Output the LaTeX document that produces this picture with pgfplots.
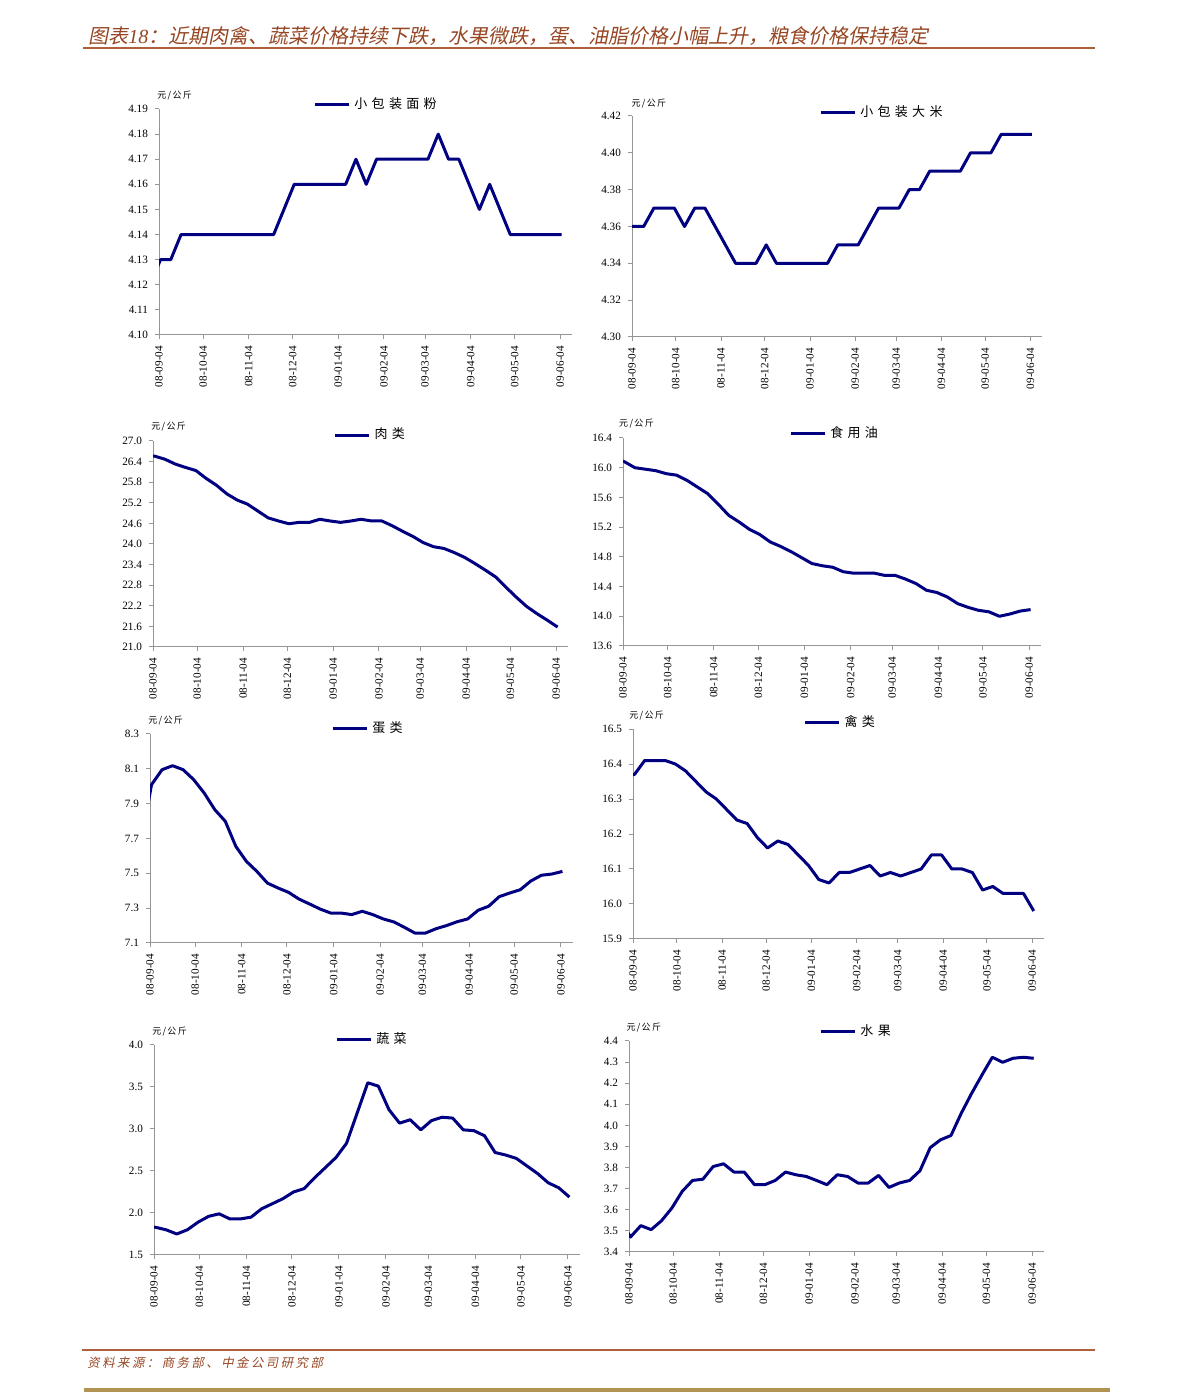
\documentclass[border=0pt]{standalone}
\usepackage{pgfplots}
\pgfplotsset{compat=1.18}
\usepackage{pgfplotstable}
\usepackage{fontspec}
\setmainfont{Liberation Serif}
\newfontfamily\cjk{Noto Sans CJK SC}
\newfontfamily\cjkleg[LetterSpace=33]{Noto Sans CJK SC}
\newfontfamily\cjkunit[LetterSpace=15]{Noto Sans CJK SC}
\newfontfamily\cjktitle[FakeSlant=0.2]{Noto Sans CJK SC}
\newfontfamily\cjkfoot[FakeSlant=0.2,LetterSpace=20]{Noto Sans CJK SC}
\definecolor{navyline}{RGB}{0,0,128}
\definecolor{titlebrown}{RGB}{150,70,35}
\definecolor{rulebrown}{RGB}{175,95,60}
\definecolor{goldbar}{RGB}{178,148,82}
\definecolor{axisgray}{RGB}{150,150,150}

\pgfplotstableread{
d wheat rice meat oil egg poultry veg fruit
-6 4.12 4.36 26.58 16.12 7.666 16.37 1.84 3.55
1 4.13 4.36 26.56 16.08 8.009 16.37 1.83 3.471
8 4.13 4.36 26.47 16.00 8.095 16.41 1.80 3.525
15 4.14 4.37 26.33 15.98 8.118 16.41 1.75 3.506
22 4.14 4.37 26.23 15.96 8.095 16.41 1.80 3.548
29 4.14 4.37 26.14 15.92 8.038 16.40 1.89 3.608
36 4.14 4.36 25.91 15.90 7.961 16.38 1.96 3.687
43 4.14 4.37 25.71 15.83 7.866 16.35 1.99 3.739
50 4.14 4.37 25.46 15.74 7.799 16.32 1.93 3.745
57 4.14 4.36 25.28 15.65 7.655 16.30 1.93 3.805
64 4.14 4.35 25.16 15.51 7.569 16.27 1.95 3.818
71 4.14 4.34 24.96 15.36 7.511 16.24 2.05 3.779
78 4.14 4.34 24.76 15.27 7.444 16.23 2.11 3.779
85 4.15 4.34 24.67 15.17 7.416 16.19 2.17 3.719
92 4.16 4.35 24.59 15.10 7.391 16.16 2.25 3.719
99 4.16 4.34 24.63 15.00 7.352 16.18 2.29 3.739
106 4.16 4.34 24.63 14.94 7.324 16.17 2.42 3.779
113 4.16 4.34 24.72 14.87 7.295 16.14 2.54 3.766
120 4.16 4.34 24.67 14.79 7.272 16.11 2.66 3.758
127 4.16 4.34 24.63 14.71 7.272 16.07 2.83 3.739
134 4.17 4.34 24.67 14.68 7.263 16.06 3.19 3.719
141 4.16 4.35 24.72 14.66 7.282 16.09 3.55 3.766
148 4.17 4.35 24.67 14.60 7.263 16.09 3.51 3.758
155 4.17 4.35 24.67 14.58 7.238 16.10 3.23 3.727
162 4.17 4.36 24.53 14.58 7.221 16.11 3.07 3.727
169 4.17 4.37 24.37 14.58 7.190 16.08 3.11 3.763
176 4.17 4.37 24.22 14.55 7.157 16.09 2.99 3.706
183 4.17 4.37 24.04 14.55 7.157 16.08 3.10 3.727
190 4.18 4.38 23.92 14.50 7.182 16.09 3.14 3.739
197 4.17 4.38 23.87 14.44 7.200 16.10 3.13 3.785
204 4.17 4.39 23.75 14.35 7.222 16.14 2.99 3.895
211 4.16 4.39 23.61 14.32 7.238 16.14 2.98 3.932
218 4.15 4.39 23.43 14.26 7.288 16.10 2.92 3.952
225 4.16 4.39 23.24 14.17 7.311 16.10 2.72 4.058
232 4.15 4.40 23.04 14.12 7.366 16.09 2.69 4.152
239 4.14 4.40 22.74 14.08 7.387 16.04 2.65 4.239
246 4.14 4.40 22.45 14.06 7.406 16.05 2.56 4.323
253 4.14 4.41 22.18 14.00 7.456 16.03 2.47 4.299
260 4.14 4.41 21.97 14.03 7.489 16.03 2.36 4.318
267 4.14 4.41 21.78 14.07 7.496 16.03 2.30 4.323
274 4.14 4.41 21.58 14.09 7.511 15.98 2.19 4.318
}\data

\pgfplotsset{panel/.style={
  scale only axis, anchor=south west,
  xmin=0, xmax=281,
  clip mode=individual,
  axis x line*=bottom, axis y line*=left,
  axis line style={axisgray, line width=0.5pt, -},
  every tick/.style={axisgray, line width=0.5pt},
  tick align=outside, major tick length=2pt,
  xtick={0,30,61,91,122,153,181,212,242,273},
  xticklabels={08-09-04,08-10-04,08-11-04,08-12-04,09-01-04,09-02-04,09-03-04,09-04-04,09-05-04,09-06-04},
  x tick label style={rotate=90, anchor=east, font=\fontsize{5.6}{6}\selectfont},
  y tick label style={font=\fontsize{5.6}{6}\selectfont},
  /pgf/number format/assume math mode=true,
  yticklabel style={/pgf/number format/.cd, fixed, fixed zerofill, precision=1},
  legend style={draw=none, fill=none, inner sep=0pt, anchor=west, font=\fontsize{6.5}{7}\selectfont\cjkleg},
  legend image code/.code={\draw[navyline, line width=1.5pt] (0pt,0pt) -- (17pt,0pt);},
  every axis plot post/.append style={navyline, line width=1.5pt, line join=round, mark=none},
}}
\newcommand{\unit}[2]{\node[anchor=west, inner sep=0pt, font=\fontsize{4.5}{5}\selectfont\cjkunit] at (rel axis cs:#1,#2) {元/公斤};}

\begin{document}
\begin{tikzpicture}
\path[use as bounding box] (0pt,0pt) rectangle (595.5pt,696pt);

\node[anchor=west, inner sep=0pt, text=titlebrown, font=\fontsize{10}{12}\selectfont\cjktitle] at (44pt,678pt) {图表{\rmfamily\itshape 18}：近期肉禽、蔬菜价格持续下跌，水果微跌，蛋、油脂价格小幅上升，粮食价格保持稳定};
\draw[rulebrown, line width=0.8pt] (41.5pt,672pt) -- (547.5pt,672pt);

% Panel 1
\begin{axis}[panel, at={(79.5pt,528.5pt)}, width=206.5pt, height=113pt,
  ymin=4.10, ymax=4.19, ytick={4.10,4.11,4.12,4.13,4.14,4.15,4.16,4.17,4.18,4.19},
  yticklabel style={/pgf/number format/precision=2},
  legend style={at={(0.373,1.022)}}]
\addplot table[x=d,y=wheat]{\data};
\addlegendentry{小包装面粉}
\unit{-0.005}{1.058}
\end{axis}

% Panel 2
\begin{axis}[panel, at={(316pt,527.5pt)}, width=205pt, height=110.5pt,
  ymin=4.30, ymax=4.42, ytick={4.30,4.32,4.34,4.36,4.38,4.40,4.42},
  yticklabel style={/pgf/number format/precision=2},
  legend style={at={(0.456,1.018)}}]
\addplot table[x=d,y=rice]{\data};
\addlegendentry{小包装大米}
\unit{-0.002}{1.054}
\end{axis}

% Panel 3
\begin{axis}[panel, at={(76.5pt,372.5pt)}, width=207.5pt, height=103pt,
  ymin=21.0, ymax=27.0, ytick={21.0,21.6,22.2,22.8,23.4,24.0,24.6,25.2,25.8,26.4,27.0},
  legend style={at={(0.434,1.029)}}]
\addplot table[x=d,y=meat]{\data};
\addlegendentry{肉类}
\unit{-0.005}{1.068}
\end{axis}

% Panel 4
\begin{axis}[panel, at={(311.5pt,373pt)}, width=209pt, height=104pt,
  ymin=13.6, ymax=16.4, ytick={13.6,14.0,14.4,14.8,15.2,15.6,16.0,16.4},
  legend style={at={(0.397,1.024)}}]
\addplot table[x=d,y=oil]{\data};
\addlegendentry{食用油}
\unit{-0.01}{1.067}
\end{axis}

% Panel 5
\begin{axis}[panel, at={(75pt,224.5pt)}, width=211.5pt, height=104.5pt,
  ymin=7.1, ymax=8.3, ytick={7.1,7.3,7.5,7.7,7.9,8.1,8.3},
  legend style={at={(0.428,1.024)}}]
\addplot table[x=d,y=egg]{\data};
\addlegendentry{蛋类}
\unit{-0.005}{1.062}
\end{axis}

% Panel 6
\begin{axis}[panel, at={(316.5pt,226.5pt)}, width=205.5pt, height=105pt,
  ymin=15.9, ymax=16.5, ytick={15.9,16.0,16.1,16.2,16.3,16.4,16.5},
  legend style={at={(0.414,1.029)}}]
\addplot table[x=d,y=poultry]{\data};
\addlegendentry{禽类}
\unit{-0.01}{1.062}
\end{axis}

% Panel 7
\begin{axis}[panel, at={(77pt,68.5pt)}, width=213pt, height=105pt,
  ymin=1.5, ymax=4.0, ytick={1.5,2.0,2.5,3.0,3.5,4.0},
  legend style={at={(0.425,1.024)}}]
\addplot table[x=d,y=veg]{\data};
\addlegendentry{蔬菜}
\unit{-0.005}{1.062}
\end{axis}

% Panel 8
\begin{axis}[panel, at={(314.5pt,70pt)}, width=207.5pt, height=105.5pt,
  ymin=3.4, ymax=4.4, ytick={3.4,3.5,3.6,3.7,3.8,3.9,4.0,4.1,4.2,4.3,4.4},
  legend style={at={(0.458,1.043)}}]
\addplot table[x=d,y=fruit]{\data};
\addlegendentry{水果}
\unit{-0.007}{1.062}
\end{axis}

\draw[rulebrown, line width=0.8pt] (41pt,21pt) -- (547.5pt,21pt);
\node[anchor=west, inner sep=0pt, text=titlebrown, font=\fontsize{6.2}{7}\selectfont\cjkfoot] at (43.5pt,14.5pt) {资料来源：商务部、中金公司研究部};
\fill[goldbar] (42pt,0pt) rectangle (555pt,2.2pt);
\end{tikzpicture}
\end{document}
